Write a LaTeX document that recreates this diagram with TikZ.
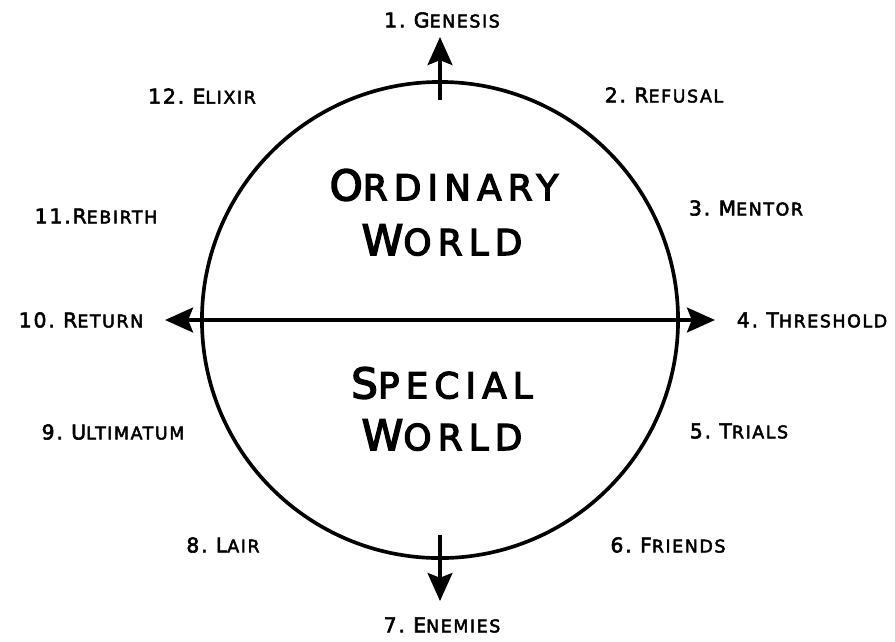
\documentclass[tikz,border=0pt]{standalone}
\usepackage{fontspec}
\newfontfamily\stagefont{DejaVu Sans}[FakeBold=2.8, LetterSpace=9]
\newfontfamily\worldfont{DejaVu Sans}[FakeBold=3.5, LetterSpace=17]
\usetikzlibrary{arrows.meta}
\newcommand\stsm[1]{{\fontsize{12.4}{13}\selectfont #1}}
\newcommand\wdsm[1]{{\fontsize{25.5}{26}\selectfont #1}}
\tikzset{
  stage/.style={font=\stagefont\fontsize{14.5}{15}\selectfont, inner sep=0pt, anchor=center},
  world/.style={font=\worldfont\fontsize{30}{31}\selectfont, inner sep=0pt, anchor=center},
  journey/.style={-{Stealth[length=0.7cm, width=0.62cm, inset=0.12cm]}}
}
\begin{document}
\begin{tikzpicture}[x=0.025cm, y=-0.025cm, line width=2.6pt]
  \useasboundingbox (0,0) rectangle (895,641);
  % the circle of the two worlds
  \coordinate (centre) at (440,320);
  \draw (centre) circle (5.95cm);
  \coordinate (north-in) at (440,100); \coordinate (north) at (440,37);
  \coordinate (south-in) at (440,535); \coordinate (south) at (440,601);
  \coordinate (west) at (165,320); \coordinate (east) at (715,320);
  \draw[journey] (north-in) -- (north);
  \draw[journey] (south-in) -- (south);
  \draw[journey] (centre) -- (west);
  \draw[journey] (centre) -- (east);
  % the two worlds
  \node[world] (ordinary) at (444,185) {O\wdsm{RDINARY}};
  \node[world] (ordinary2) at (442,240) {W\wdsm{ORLD}};
  \node[world] (special) at (442,383) {S\wdsm{PECIAL}};
  \node[world] (special2) at (442,435) {W\wdsm{ORLD}};
  % the twelve stages
  \node[stage] (genesis) at (442,20) {1.\ G\stsm{ENESIS}};
  \node[stage] (refusal) at (664,95) {2.\ R\stsm{EFUSAL}};
  \node[stage] (mentor) at (746,208) {3.\ M\stsm{ENTOR}};
  \node[stage] (threshold) at (812,320) {4.\ T\stsm{HRESHOLD}};
  \node[stage] (trials) at (739,431) {5.\ T\stsm{RIALS}};
  \node[stage] (friends) at (668,545) {6.\ F\stsm{RIENDS}};
  \node[stage] (enemies) at (442,625) {7.\ E\stsm{NEMIES}};
  \node[stage] (lair) at (223,545) {8.\ L\stsm{AIR}};
  \node[stage] (ultimatum) at (113,432) {9.\ U\stsm{LTIMATUM}};
  \node[stage] (return) at (81,320) {10.\ R\stsm{ETURN}};
  \node[stage] (rebirth) at (96,216) {11.R\stsm{EBIRTH}};
  \node[stage] (elixir) at (202,96) {12.\ E\stsm{LIXIR}};
\end{tikzpicture}
\end{document}
